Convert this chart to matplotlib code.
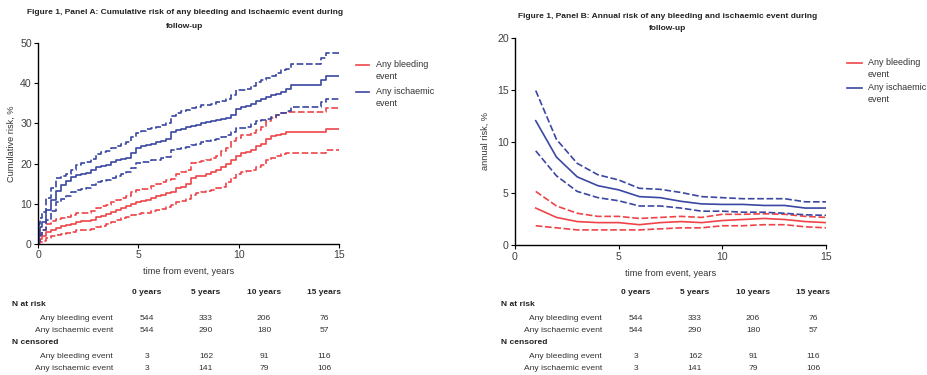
import numpy as np
import matplotlib
matplotlib.use('Agg')
import matplotlib.pyplot as plt
from matplotlib.lines import Line2D

plt.rcParams['font.family'] = ['Liberation Sans', 'DejaVu Sans']

RED = '#ee4449'
BLUE = '#3a47a3'

# ---- Panel A: cumulative risk, two early readings then every quarter year ----
t_cum = np.concatenate([[0, 0.05, 0.125], np.arange(0.25, 15.01, 0.25)])
isch_cum = [0, 2.5, 4.2, 5.5, 8.5, 11, 13.3, 14.6, 15.7, 16.6, 17.1, 17.4, 17.7, 18.5,
            19.1, 19.4, 19.6, 20.3, 20.9, 21.2, 21.5, 22.6, 23.9, 24.3, 24.6, 25.0,
            25.4, 25.7, 26.2, 27.9, 28.3, 28.6, 29.0, 29.3, 29.6, 30.0, 30.3, 30.6,
            30.8, 31.0, 31.3, 32.0, 33.5, 34.0, 34.3, 34.9, 35.5, 36.0, 36.5, 37.0,
            37.3, 37.9, 38.5, 39.5, 39.5, 39.5, 39.5, 39.5, 39.6, 40.8, 41.9, 41.9,
            41.9]
isch_cum_hi = [0, 5, 6.5, 8, 11.5, 14, 16.4, 16.8, 17.3, 18.5, 19.7, 20.1, 20.4, 21.2,
               22.5, 22.8, 23.1, 24.0, 24.4, 24.9, 25.4, 26.5, 27.7, 28.2, 28.5, 28.8,
               29.1, 29.6, 30.2, 31.9, 32.5, 33.0, 33.4, 33.8, 34.1, 34.5, 34.7, 34.9,
               35.2, 35.6, 36.1, 37.0, 38.2, 38.4, 38.6, 39.4, 40.2, 40.9, 41.4, 41.8,
               42.5, 43.3, 43.6, 44.8, 44.8, 44.8, 44.8, 44.8, 44.8, 46.2, 47.4, 47.4,
               47.4]
isch_cum_lo = [0, 0.8, 2.2, 3.5, 6, 8.2, 10.4, 11.2, 12, 12.9, 13.5, 13.7, 14, 14.8,
               15.5, 15.6, 15.8, 16.4, 17, 17.5, 18, 19.0, 20.1, 20.3, 20.5, 20.8,
               21, 21.3, 21.6, 23.4, 23.7, 23.9, 24.1, 24.6, 25, 25.4, 25.7, 25.9,
               26.1, 26.6, 27, 27.8, 28.8, 28.9, 29.1, 29.8, 30.5, 30.9, 31.2, 31.5,
               32, 32.6, 33, 34, 34, 34, 34, 34, 34.1, 35.2, 36, 36,
               36]
bleed_cum = [0, 0.6, 1.2, 2, 3, 3.5, 3.9, 4.4, 4.7, 5.0, 5.4, 5.7, 5.8, 5.9,
             6.6, 7.0, 7.5, 8.0, 8.5, 9.0, 9.5, 10.0, 10.4, 10.7, 11.0, 11.4,
             11.9, 12.3, 12.6, 13.0, 13.9, 14.3, 15.0, 16.3, 16.8, 17.0, 17.4, 17.9,
             18.3, 19.2, 19.8, 21.0, 22.0, 22.6, 22.9, 23.4, 24.4, 24.8, 26.0, 26.8,
             27.1, 27.4, 27.8, 27.8, 27.8, 27.8, 27.8, 27.8, 27.8, 27.8, 28.7, 28.7,
             28.7]
bleed_cum_hi = [0, 1.5, 2.5, 3.5, 5, 5.7, 6.1, 6.4, 6.7, 7.2, 7.7, 7.7, 7.8, 8.2,
                9.0, 9.4, 9.8, 10.5, 11.0, 11.5, 12.0, 12.9, 13.5, 13.6, 13.8, 14.4,
                15.0, 15.4, 15.8, 16.2, 17.4, 18.0, 18.5, 20.1, 20.4, 20.7, 21.0, 21.4,
                22.0, 23.2, 24.0, 25.5, 26.4, 27.0, 27.2, 27.6, 28.3, 29.0, 30.5, 31.3,
                32.0, 32.6, 32.9, 32.9, 32.9, 32.9, 32.9, 32.9, 32.9, 32.9, 33.9, 33.9,
                33.9]
bleed_cum_lo = [0, 0.2, 0.4, 0.8, 1.5, 2.0, 2.3, 2.6, 2.8, 3.1, 3.4, 3.4, 3.5, 3.8,
                4.3, 4.6, 5.0, 5.5, 6.0, 6.4, 6.8, 7.2, 7.5, 7.6, 7.8, 8.1,
                8.5, 8.8, 9.1, 9.6, 10.4, 10.8, 11.3, 12.2, 12.7, 12.9, 13.2, 13.5,
                13.9, 14.3, 15.3, 16.4, 17.3, 17.9, 18.1, 18.3, 19.2, 19.7, 20.8, 21.5,
                21.9, 22.4, 22.7, 22.7, 22.7, 22.7, 22.7, 22.7, 22.7, 22.7, 23.3, 23.3,
                23.3]

# ---- Panel B: annual risk by year ----
years = np.arange(1, 16)
isch_ann = [12.0, 8.5, 6.6, 5.75, 5.35, 4.7, 4.6, 4.25, 4.0, 3.95, 3.95, 3.85,
            3.85, 3.6, 3.6]
isch_ann_hi = [14.9, 10.2, 7.9, 6.8, 6.3, 5.5, 5.4, 5.1, 4.7, 4.6, 4.5, 4.5,
               4.5, 4.2, 4.2]
isch_ann_lo = [9.1, 6.7, 5.2, 4.6, 4.3, 3.8, 3.8, 3.6, 3.3, 3.3, 3.2, 3.2,
               3.1, 2.95, 2.9]
bleed_ann = [3.6, 2.7, 2.3, 2.2, 2.2, 2.0, 2.2, 2.3, 2.2, 2.4, 2.5, 2.6, 2.5,
             2.3, 2.2]
bleed_ann_hi = [5.2, 3.8, 3.1, 2.8, 2.8, 2.6, 2.7, 2.8, 2.7, 3.0, 3.0, 3.05,
                3.0, 2.8, 2.7]
bleed_ann_lo = [1.9, 1.7, 1.5, 1.5, 1.5, 1.5, 1.6, 1.7, 1.7, 1.9, 1.9, 2.0,
                2.0, 1.8, 1.7]

# ---- table under each panel ----
col_labels = ['0 years', '5 years', '10 years', '15 years']
row_labels = ['Any bleeding event', 'Any ischaemic event']
at_risk = [[544, 333, 206, 76], [544, 290, 180, 57]]
censored = [[3, 162, 91, 116], [3, 141, 79, 106]]

W, H = 927, 375
fig = plt.figure(figsize=(W / 100, H / 100), dpi=100)

def fx(px):
    return px / W

def fy(py):
    return 1 - py / H

def style_axes(ax):
    for s in ['top', 'right']:
        ax.spines[s].set_visible(False)
    for s in ['left', 'bottom']:
        ax.spines[s].set_linewidth(1.0)
    ax.tick_params(direction='out', length=3, width=0.8, labelsize=7.6,
                   color='black', labelcolor='#404040', pad=1.5)

dash = (0, (4, 1.6))
lw = 1.2

axA = fig.add_axes([fx(38), fy(244), fx(339 - 38), fy(43) - fy(244)])
for vals, c, ls in [(bleed_cum, RED, '-'), (bleed_cum_hi, RED, dash),
                    (bleed_cum_lo, RED, dash), (isch_cum, BLUE, '-'),
                    (isch_cum_hi, BLUE, dash), (isch_cum_lo, BLUE, dash)]:
    axA.step(t_cum, vals, where='mid', color=c, lw=lw, ls=ls)
axA.set_xlim(0, 15)
axA.set_ylim(0, 50)
axA.set_xticks([0, 5, 10, 15])
axA.set_yticks(range(0, 51, 10))
style_axes(axA)
axA.set_ylabel('Cumulative risk, %', fontsize=6.6, color='#333333', labelpad=3)
axA.set_xlabel('time from event, years', fontsize=6.6, color='#333333', labelpad=5)

axB = fig.add_axes([fx(515), fy(245.5), fx(826 - 515), fy(37.5) - fy(245.5)])
for vals, c, ls in [(bleed_ann, RED, '-'), (bleed_ann_hi, RED, dash),
                    (bleed_ann_lo, RED, dash), (isch_ann, BLUE, '-'),
                    (isch_ann_hi, BLUE, dash), (isch_ann_lo, BLUE, dash)]:
    axB.plot(years, vals, color=c, lw=lw, ls=ls)
axB.set_xlim(0, 15)
axB.set_ylim(0, 20)
axB.set_xticks([0, 5, 10, 15])
axB.set_yticks([0, 5, 10, 15, 20])
style_axes(axB)
axB.set_ylabel('annual risk, %', fontsize=6.6, color='#333333', labelpad=5)
axB.set_xlabel('time from event, years', fontsize=6.6, color='#333333', labelpad=5)

# titles
fig.text(fx(185), fy(13), 'Figure 1, Panel A: Cumulative risk of any bleeding and ischaemic event during',
         ha='center', va='center', fontsize=6, fontweight='bold', color='#222222')
fig.text(fx(185), fy(26), 'follow-up', ha='center', va='center', fontsize=6,
         fontweight='bold', color='#222222')
fig.text(fx(668), fy(17), 'Figure 1, Panel B: Annual risk of any bleeding and ischaemic event during',
         ha='center', va='center', fontsize=6, fontweight='bold', color='#222222')
fig.text(fx(668), fy(29), 'follow-up', ha='center', va='center', fontsize=6,
         fontweight='bold', color='#222222')

# legends drawn as figure lines + text
def legend(x0, x1, xt, y_red, y_blue):
    for y, c, txt in [(y_red, RED, 'Any bleeding\nevent'),
                      (y_blue, BLUE, 'Any ischaemic\nevent')]:
        fig.add_artist(Line2D([fx(x0), fx(x1)], [fy(y), fy(y)], color=c, lw=1.2))
        fig.text(fx(xt), fy(y - 5), txt, ha='left', va='top', fontsize=6.5,
                 color='#333333', linespacing=1.4)

legend(356, 369, 376, 65, 92)
legend(847, 862, 868, 63, 88)

# risk tables
def table(dx):
    col_x = [147, 206, 264, 324]
    for x, lab in zip(col_x, col_labels):
        fig.text(fx(x + dx), fy(293), lab, ha='center', va='center', fontsize=6,
                 fontweight='bold', color='#222222')
    blocks = [('N at risk', 305, at_risk), ('N censored', 343, censored)]
    for head, y0, vals in blocks:
        fig.text(fx(12 + dx), fy(y0), head, ha='left', va='center', fontsize=6,
                 fontweight='bold', color='#222222')
        for k, (lab, row) in enumerate(zip(row_labels, vals)):
            y = y0 + 13 + k * 12.5
            fig.text(fx(113 + dx), fy(y), lab, ha='right', va='center',
                     fontsize=6.1, color='#333333')
            for x, v in zip(col_x, row):
                fig.text(fx(x + dx), fy(y), str(v), ha='center', va='center',
                         fontsize=6.1, color='#333333')

table(0)
table(489)

fig.savefig('out.png', dpi=100)
